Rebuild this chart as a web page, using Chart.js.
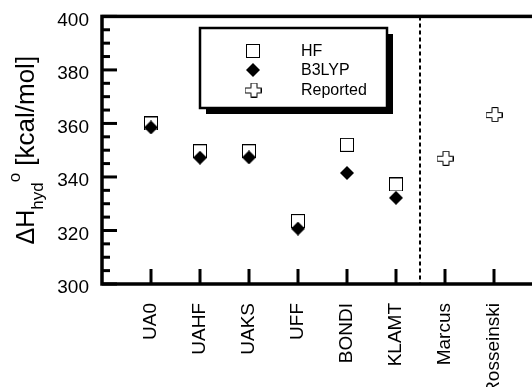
<!DOCTYPE html>
<html>
<head>
<meta charset="utf-8">
<script src="https://cdn.jsdelivr.net/npm/chart.js@4/dist/chart.umd.min.js"></script>
<style>
html, body { margin: 0; padding: 0; overflow: hidden; background: #fff; }
#wrap { width: 548px; height: 387px; }
</style>
</head>
<body>
<div id="wrap"><canvas id="grafico"></canvas></div>
<script>
// categories on the x axis (value 1..8)
const categorias = ['UA0', 'UAHF', 'UAKS', 'UFF', 'BONDI', 'KLAMT', 'Marcus', 'Rosseinski'];

// hydration enthalpies, kcal/mol
const valoresHF = [360, 349.6, 349.6, 323.5, 352, 337.2, null, null];
const valoresB3LYP = [358.5, 347.2, 347.3, 320.7, 341.5, 332.2, null, null];
const valoresReportados = [null, null, null, null, null, null, 347, 363.3];

const ticksY = [300, 320, 340, 360, 380, 400];
const pasoMenorY = 5;
const separador = 6.5; // dotted line between computed and reported

const fuente = "'Liberation Sans', Arial, sans-serif";

const puntos = (valores) => valores
    .map((v, i) => v == null ? null : { x: i + 1, y: v })
    .filter(p => p);

const crearMarca = (ancho, alto, dibujar) => {
    const c = document.createElement('canvas');
    c.width = ancho;
    c.height = alto;
    dibujar(c.getContext('2d'), ancho, alto);
    return c;
};

const marcaCuadro = crearMarca(14, 14, (ctx, w, h) => {
    ctx.fillStyle = '#fff';
    ctx.fillRect(0.5, 0.5, w - 1, h - 1);
    ctx.strokeStyle = '#000';
    ctx.lineWidth = 1;
    ctx.strokeRect(0.5, 0.5, w - 1, h - 1);
});

const marcaRombo = crearMarca(14, 14, (ctx, w, h) => {
    ctx.fillStyle = '#000';
    ctx.beginPath();
    ctx.moveTo(w / 2, 0);
    ctx.lineTo(w, h / 2);
    ctx.lineTo(w / 2, h);
    ctx.lineTo(0, h / 2);
    ctx.closePath();
    ctx.fill();
});

const marcaCruz = crearMarca(17, 15, (ctx, w, h) => {
    const a = 6;
    const l = 0.5, r = w - 0.5, t = 0.5, b = h - 0.5;
    const vx1 = Math.round((w - a) / 2) + 0.5, vx2 = vx1 + a;
    const hy1 = Math.round((h - a) / 2) + 0.5, hy2 = hy1 + a - 1;
    ctx.beginPath();
    ctx.moveTo(vx1, t); ctx.lineTo(vx2, t); ctx.lineTo(vx2, hy1); ctx.lineTo(r, hy1);
    ctx.lineTo(r, hy2); ctx.lineTo(vx2, hy2); ctx.lineTo(vx2, b); ctx.lineTo(vx1, b);
    ctx.lineTo(vx1, hy2); ctx.lineTo(l, hy2); ctx.lineTo(l, hy1); ctx.lineTo(vx1, hy1);
    ctx.closePath();
    ctx.fillStyle = '#fff';
    ctx.fill();
    ctx.strokeStyle = '#000';
    ctx.lineWidth = 1;
    ctx.stroke();
});

const linea = (ctx, x1, y1, x2, y2) => {
    ctx.beginPath();
    ctx.moveTo(x1, y1);
    ctx.lineTo(x2, y2);
    ctx.stroke();
};

const marcoPlugin = {
    id: 'marco',
    beforeDatasetsDraw(chart) {
        const { ctx, chartArea: { left, right, top, bottom } } = chart;
        const { x, y } = chart.scales;
        ctx.save();
        ctx.strokeStyle = '#000';

        // dotted separator
        ctx.lineWidth = 2;
        ctx.setLineDash([4, 3]);
        const sx = Math.round(x.getPixelForValue(separador)) - 1;
        linea(ctx, sx, top, sx, bottom);
        ctx.setLineDash([]);

        // inward ticks
        ctx.lineWidth = 3;
        for (let v = y.min; v <= y.max; v += pasoMenorY) {
            const py = y.getPixelForValue(v);
            const largo = ticksY.includes(v) ? 15 : 8;
            linea(ctx, left, py, left + largo, py);
        }
        categorias.forEach((c, i) => {
            const px = x.getPixelForValue(i + 1);
            linea(ctx, px, bottom, px, bottom - 15);
        });

        // frame
        ctx.lineWidth = 3.5;
        ctx.strokeRect(left, top, right - left, bottom - top);
        ctx.restore();
    },
    afterDraw(chart) {
        const { ctx, chartArea: { top, bottom } } = chart;
        ctx.save();

        // legend box with drop shadow
        const bx = 200, by = 28, bw = 187, bh = 80;
        ctx.fillStyle = '#000';
        ctx.fillRect(bx + 6, by + 6, bw, bh);
        ctx.fillStyle = '#fff';
        ctx.fillRect(bx, by, bw, bh);
        ctx.strokeStyle = '#000';
        ctx.lineWidth = 2.5;
        ctx.strokeRect(bx, by, bw, bh);

        ctx.font = `16px ${fuente}`;
        ctx.fillStyle = '#000';
        ctx.textBaseline = 'middle';
        const filasY = [51, 70, 90];
        chart.data.datasets.forEach((ds, i) => {
            const img = ds.pointStyle;
            ctx.drawImage(img, 253 - img.width / 2, filasY[i] - img.height / 2);
            ctx.fillText(ds.label, 301, filasY[i] + 1);
        });

        // y title with subscript and superscript
        ctx.translate(34, (top + bottom) / 2);
        ctx.rotate(-Math.PI / 2);
        ctx.textBaseline = 'alphabetic';
        const partes = [
            { t: '\u0394H', f: 25, dy: 0 },
            { t: 'hyd', f: 17, dy: 9 },
            { t: 'o', f: 17, dy: -14 },
            { t: ' [kcal/mol]', f: 26, dy: 0 }
        ];
        let total = 0;
        partes.forEach(p => {
            ctx.font = `${p.f}px ${fuente}`;
            p.w = ctx.measureText(p.t).width;
            total += p.w;
        });
        let px = -total / 2;
        partes.forEach(p => {
            ctx.font = `${p.f}px ${fuente}`;
            ctx.fillText(p.t, px, p.dy);
            px += p.w;
        });
        ctx.restore();
    }
};

const chart = new Chart(document.getElementById('grafico'), {
    type: 'scatter',
    data: {
        datasets: [
            { label: 'HF', data: puntos(valoresHF), pointStyle: marcaCuadro, order: 2 },
            { label: 'B3LYP', data: puntos(valoresB3LYP), pointStyle: marcaRombo, order: 1 },
            { label: 'Reported', data: puntos(valoresReportados), pointStyle: marcaCruz, order: 0 }
        ]
    },
    options: {
        responsive: true,
        maintainAspectRatio: false,
        animation: false,
        layout: { padding: { top: 14, right: 5, left: 0, bottom: 0 } },
        plugins: {
            legend: { display: false },
            tooltip: { enabled: false }
        },
        scales: {
            x: {
                type: 'linear',
                min: 0,
                max: 9,
                grid: { display: false },
                border: { display: false },
                afterBuildTicks: (s) => {
                    s.ticks = categorias.map((c, i) => ({ value: i + 1 }));
                },
                afterFit: (s) => { s.height = 103; },
                ticks: {
                    autoSkip: false,
                    minRotation: 90,
                    maxRotation: 90,
                    padding: 11,
                    color: '#000',
                    font: { family: fuente, size: 19 },
                    callback: (v) => categorias[v - 1]
                }
            },
            y: {
                min: 300,
                max: 400,
                grid: { display: false },
                border: { display: false },
                afterBuildTicks: (s) => {
                    s.ticks = ticksY.map(v => ({ value: v }));
                },
                afterFit: (s) => { s.width = 102; },
                ticks: {
                    padding: 5,
                    labelOffset: 4,
                    color: '#000',
                    font: { family: fuente, size: 19 }
                }
            }
        }
    },
    plugins: [marcoPlugin]
});
</script>
</body>
</html>
